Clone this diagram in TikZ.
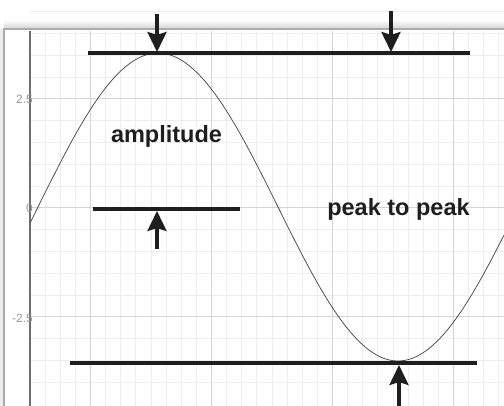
\documentclass[tikz,border=0pt]{standalone}
\usepackage{fontspec}
\setmainfont{Liberation Sans}
\usepackage{xcolor}
\definecolor{GridMinor}{HTML}{EDEDED}
\definecolor{GridMajor}{HTML}{D4D4D4}
\definecolor{AxisGray}{HTML}{6E6E6E}
\definecolor{TickGray}{HTML}{999999}
\definecolor{InkBlack}{HTML}{1E1E1E}
\usetikzlibrary{arrows.meta,positioning}

\begin{document}
\begin{tikzpicture}[x=1pt,y=-1pt,>={Stealth[length=20pt,width=19pt,inset=3pt]}, minor/.style={draw=GridMinor,line width=1pt}, major/.style={draw=GridMajor,line width=1pt}, bar/.style={draw=InkBlack,line width=3.5pt}, pointer/.style={->,draw=InkBlack,fill=InkBlack,line width=3.5pt}, word/.style={font=\fontsize{23.5}{28}\selectfont\bfseries,text=InkBlack,inner sep=0pt,anchor=base}, ticklabel/.style={font=\fontsize{12}{14}\selectfont,text=TickGray,inner sep=0pt,anchor=east}]
\useasboundingbox (0,0) rectangle (504,406);
% window frame
\shade[top color=white,bottom color=gray!35] (4,20) rectangle (504,29);
\fill[gray!15] (0,29) rectangle (4,406);
\fill[white] (4,29) rectangle (504,406);
\draw[gray!65,line width=1.2pt] (4,406) -- (4,29) -- (504,29);
% grid
\foreach \i in {1,...,31} \draw[minor] ({30+15.125*\i},31) -- ({30+15.125*\i},406);
\foreach \i in {-8,...,9} \draw[minor] (30,{208-21.8*\i}) -- (504,{208-21.8*\i});
\foreach \i in {4,12,20,28} \draw[major] ({30+15.125*\i},31) -- ({30+15.125*\i},406);
\foreach \i in {-5,0,5} \draw[major] (30,{208-21.8*\i}) -- (504,{208-21.8*\i});
% axis
\draw[AxisGray,line width=2pt] (30,31) -- (30,406);
\node[ticklabel] (tickTop) at (33,99) {2.5};
\node[ticklabel] (tickMid) at (33,208) {0};
\node[ticklabel] (tickBot) at (33,318) {-2.5};
% signal
\draw[InkBlack!85,line width=0.7pt] plot[domain=30:504,samples=120] (\x,{207-154*sin((\x-38)*0.75)});
% level bars
\coordinate (topL) at (88,53);
\coordinate (topR) at (470,53);
\coordinate (zeroL) at (93,209);
\coordinate (zeroR) at (240,209);
\coordinate (botL) at (70,363);
\coordinate (botR) at (477,363);
\draw[bar] (topL) -- (topR);
\draw[bar] (zeroL) -- (zeroR);
\draw[bar] (botL) -- (botR);
% pointers
\coordinate (ampIn) at (157,14);
\coordinate (ampHit) at (157,52);
\coordinate (ampUpIn) at (157,249);
\coordinate (ampUpHit) at (157,211);
\coordinate (ppIn) at (391,11);
\coordinate (ppHit) at (391,52);
\coordinate (ppUpIn) at (399,406);
\coordinate (ppUpHit) at (399,365);
\draw[pointer] (ampIn) -- (ampHit);
\draw[pointer] (ampUpIn) -- (ampUpHit);
\draw[pointer] (ppIn) -- (ppHit);
\draw[pointer] (ppUpIn) -- (ppUpHit);
% labels
\node[word] (amp) at (166.5,143) {amplitude};
\node[word] (pp) at (398.5,216) {peak to peak};
\end{tikzpicture}
\end{document}
